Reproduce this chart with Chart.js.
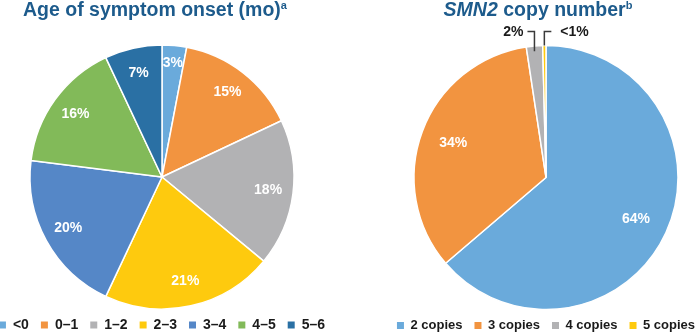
<!DOCTYPE html>
<html>
<head>
<meta charset="utf-8">
<script src="https://cdn.jsdelivr.net/npm/chart.js@4.4.0/dist/chart.umd.min.js"></script>
<style>
  body { margin: 0; width: 696px; height: 332px; overflow: hidden; background: #fff; position: relative;
         font-family: "Liberation Sans", Arial, sans-serif; }
  .title { position: absolute; top: -1px; font-weight: bold; font-size: 19.5px; line-height: 20px;
           color: #1d5b8c; white-space: nowrap; text-align: center; z-index: 2; }
  .title sup { font-size: 11px; vertical-align: 7px; line-height: 0; }
  #t1 { left: 0; width: 310px; }
  #t2 { left: 388px; width: 300px; }
  .wrap { position: absolute; top: 0; height: 342px; }
  #w1 { left: -30px; width: 384px; }
  #w2 { left: 381px; width: 330px; }
</style>
</head>
<body>
<div class="title" id="t1">Age of symptom onset (mo)<sup>a</sup></div>
<div class="title" id="t2"><i>SMN2</i> copy number<sup>b</sup></div>
<div class="wrap" id="w1"><canvas id="onsetChart" width="384" height="342"></canvas></div>
<div class="wrap" id="w2"><canvas id="copyChart" width="330" height="342"></canvas></div>
<script>
// DATA
const onsetLabels = ["<0", "0\u20131", "1\u20132", "2\u20133", "3\u20134", "4\u20135", "5\u20136"];
const onsetValues = [3, 15, 18, 21, 20, 16, 7];
const onsetColors = ["#6aaadb", "#f29440", "#b2b2b4", "#feca0e", "#5587c7", "#82ba59", "#2a70a4"];

const copyLabels = ["2 copies", "3 copies", "4 copies", "5 copies"];
const copyValues = [64, 34, 2, 0.4];
const copyColors = ["#6aaadb", "#f29440", "#b2b2b4", "#feca0e"];

const pctText = (v) => (v < 1 ? "<1%" : Math.round(v) + "%");

// draws the % labels inside slices, small slices get a leader line above the pie
const sliceLabels = {
  id: "sliceLabels",
  afterDatasetsDraw(chart, args, opts) {
    const ctx = chart.ctx;
    const meta = chart.getDatasetMeta(0);
    const values = chart.data.datasets[0].data;
    let calloutNo = 0;
    ctx.save();
    ctx.font = "bold 14px 'Liberation Sans', Arial, sans-serif";
    ctx.textBaseline = "middle";
    meta.data.forEach((arc, i) => {
      const p = arc.getProps(["x", "y", "startAngle", "endAngle", "outerRadius"], true);
      const mid = (p.startAngle + p.endAngle) / 2;
      const txt = pctText(values[i]);
      if (values[i] < opts.calloutBelow) {
        const dir = calloutNo === 0 ? -1 : 1;
        calloutNo++;
        const lx = p.x + Math.cos(mid) * p.outerRadius;
        const y0 = p.y + Math.sin(mid) * p.outerRadius * (dir < 0 ? 0.96 : 1.0);
        const ly = p.y - p.outerRadius - 14;
        ctx.strokeStyle = "#3a3a3a";
        ctx.lineWidth = 1.5;
        ctx.beginPath();
        ctx.moveTo(lx, y0);
        ctx.lineTo(lx, ly);
        ctx.lineTo(lx + dir * 7, ly);
        ctx.stroke();
        ctx.fillStyle = "#1a1a1a";
        ctx.textAlign = dir < 0 ? "right" : "left";
        ctx.fillText(txt, lx + dir * (dir < 0 ? 11 : 16), ly + 1);
      } else {
        const f = values[i] < 5 ? 0.87 : opts.radius;
        const tx = p.x + Math.cos(mid) * p.outerRadius * f;
        const ty = p.y + Math.sin(mid) * p.outerRadius * f;
        ctx.fillStyle = "#ffffff";
        ctx.textAlign = "center";
        ctx.fillText(txt, tx, ty);
      }
    });
    ctx.restore();
  }
};

function legendItems(chart) {
  const items = Chart.overrides.pie.plugins.legend.labels.generateLabels(chart);
  items.forEach((it) => { it.lineWidth = 0; it.strokeStyle = it.fillStyle; });
  return items;
}

function makePie(id, labels, values, colors, labelRadius, legendSize) {
  return new Chart(document.getElementById(id), {
    type: "pie",
    data: {
      labels: labels,
      datasets: [{
        data: values,
        backgroundColor: colors,
        borderColor: "#ffffff",
        borderWidth: 1.5,
        radius: 132
      }]
    },
    options: {
      responsive: false,
      animation: false,
      events: [],
      layout: { padding: { top: 48 } },
      plugins: {
        tooltip: { enabled: false },
        legend: {
          position: "bottom",
          labels: {
            boxWidth: 7,
            boxHeight: 7,
            padding: 12,
            color: "#1a1a1a",
            font: { size: legendSize, weight: "bold", family: "'Liberation Sans', Arial, sans-serif" },
            generateLabels: legendItems
          }
        },
        sliceLabels: { radius: labelRadius, calloutBelow: 2.5 }
      }
    },
    plugins: [sliceLabels]
  });
}

const onsetChart = makePie("onsetChart", onsetLabels, onsetValues, onsetColors, 0.81, 14);
const copyChart = makePie("copyChart", copyLabels, copyValues, copyColors, 0.75, 13);
</script>
</body>
</html>
